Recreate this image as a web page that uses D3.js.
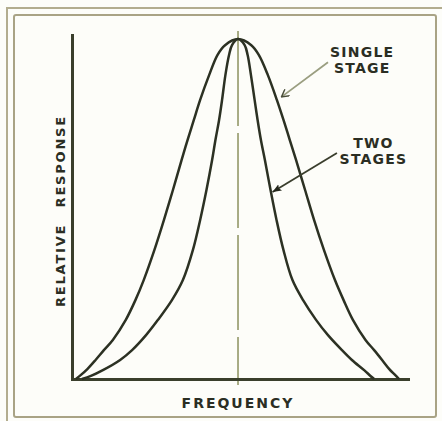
<!DOCTYPE html>
<html lang="en">
<head>
<meta charset="UTF-8">
<title>Relative response vs frequency</title>
<script src="https://cdn.jsdelivr.net/npm/d3@7/dist/d3.min.js"></script>
<style>
  body { margin: 0; background: #fdfdf9; }
  svg { display: block; }
  text { font-family: "DejaVu Sans", sans-serif; font-weight: bold; fill: #2b2e23; }
</style>
</head>
<body>
<div id="chart"></div>
<script>
// frequency offset from resonance (arbitrary units) and relative response
const singleFreq = [-48.8, -47.3, -45.3, -42.9, -40.4, -37.7, -33.8, -30.9, -28.4, -25.2, -22.3, -19.6, -17.0, -15.2, -13.3, -11.4, -8.7, -6.2, -3.9,
  0, 4.0, 6.3, 9.0, 11.7, 13.7, 15.6, 17.5, 20.2, 22.9, 25.9, 29.2, 31.8, 34.6, 38.4, 41.0, 43.4, 45.5, 47.3, 48.5];
const singleResp = [0, 0.012, 0.03, 0.056, 0.085, 0.115, 0.174, 0.232, 0.291, 0.379, 0.468, 0.556, 0.644, 0.703, 0.762, 0.821, 0.894, 0.953, 0.982,
  1, 0.982, 0.953, 0.894, 0.821, 0.762, 0.703, 0.644, 0.556, 0.468, 0.379, 0.291, 0.232, 0.174, 0.115, 0.085, 0.056, 0.03, 0.012, 0];

const twoFreq = [-47.0, -44.3, -40.7, -35.5, -31.9, -27.7, -24.1, -19.9, -16.6, -13.6, -11.4, -9.5, -7.8, -6.8, -5.7, -4.8, -3.8, -2.7, -1.8,
  0, 2.0, 2.9, 3.9, 5.0, 5.9, 6.9, 8.1, 9.8, 11.6, 13.7, 16.4, 19.6, 23.5, 27.1, 31.3, 34.3, 38.0, 39.9, 41.0];
const twoResp = [0, 0.009, 0.026, 0.056, 0.085, 0.129, 0.174, 0.232, 0.291, 0.379, 0.468, 0.556, 0.644, 0.703, 0.762, 0.821, 0.894, 0.953, 0.982,
  1, 0.982, 0.953, 0.894, 0.821, 0.762, 0.703, 0.644, 0.556, 0.468, 0.379, 0.291, 0.232, 0.174, 0.129, 0.085, 0.056, 0.026, 0.009, 0];

// callouts: label lines, label anchor, arrow start and arrow tip (data units)
const callouts = [
  { lines: ["SINGLE", "STAGE"], f: 37.4, r: 0.947, fromF: 27.1, fromR: 0.932, tipF: 13.1, tipR: 0.83, color: "#9a9e80", head: "open" },
  { lines: ["TWO", "STAGES"], f: 40.8, r: 0.679, fromF: 29.8, fromR: 0.665, tipF: 10.4, tipR: 0.55, color: "#3a3e2d", head: "solid" }
];

const width = 442, height = 421;

const svg = d3.select("#chart").append("svg")
  .attr("width", width)
  .attr("height", height);

svg.append("rect").attr("width", width).attr("height", height).attr("fill", "#fdfdf9");

// frame (double border of the printed figure)
svg.append("path")
  .attr("d", "M7,421V8H442")
  .attr("fill", "none").attr("stroke", "#b3ad8f").attr("stroke-width", 2);
svg.append("rect")
  .attr("x", 14).attr("y", 15).attr("width", 422).attr("height", 402).attr("rx", 2)
  .attr("fill", "none").attr("stroke", "#a9a385").attr("stroke-width", 2);

const x = d3.scaleLinear().domain([-50, 51.2]).range([72, 408]);
const y = d3.scaleLinear().domain([0, 1.012]).range([379, 35]);

// centre frequency line
svg.append("line")
  .attr("x1", x(0)).attr("x2", x(0))
  .attr("y1", y(1.024)).attr("y2", y(-0.018))
  .attr("stroke", "#8c915f").attr("stroke-width", 1.5)
  .attr("stroke-dasharray", "95,7");

// axes, no ticks
const xAxis = svg.append("g")
  .attr("transform", `translate(0,${y(0)})`)
  .call(d3.axisBottom(x).tickValues([]).tickSizeOuter(0));
const yAxis = svg.append("g")
  .attr("transform", `translate(${x(-50)},0)`)
  .call(d3.axisLeft(y).tickValues([]).tickSizeOuter(0));
[xAxis, yAxis].forEach(g => g.select(".domain")
  .attr("stroke", "#3a3f2c").attr("stroke-width", 3).attr("stroke-linecap", "square"));

const line = d3.line()
  .x(d => x(d[0]))
  .y(d => y(d[1]))
  .curve(d3.curveCatmullRom.alpha(0.5));

[[singleFreq, singleResp], [twoFreq, twoResp]].forEach(([fs, rs]) => {
  svg.append("path")
    .datum(fs.map((f, i) => [f, rs[i]]))
    .attr("d", line)
    .attr("fill", "none")
    .attr("stroke", "#2c3123")
    .attr("stroke-width", 2.5)
    .attr("stroke-linejoin", "round");
});

// arrow heads
const defs = svg.append("defs");
defs.append("marker")
  .attr("id", "open").attr("viewBox", "0 -5 10 10")
  .attr("refX", 9).attr("refY", 0)
  .attr("markerWidth", 9).attr("markerHeight", 9).attr("markerUnits", "userSpaceOnUse")
  .attr("orient", "auto")
  .append("path").attr("d", "M1,-4.5L9,0L1,4.5")
  .attr("fill", "none").attr("stroke", "#4a4e3a").attr("stroke-width", 1.6);
defs.append("marker")
  .attr("id", "solid").attr("viewBox", "0 -5 10 10")
  .attr("refX", 10).attr("refY", 0)
  .attr("markerWidth", 9).attr("markerHeight", 9).attr("markerUnits", "userSpaceOnUse")
  .attr("orient", "auto")
  .append("path").attr("d", "M0,-4L10,0L0,4L2,0Z")
  .attr("fill", "#23261b");

callouts.forEach(c => {
  svg.append("line")
    .attr("x1", x(c.fromF)).attr("y1", y(c.fromR))
    .attr("x2", x(c.tipF)).attr("y2", y(c.tipR))
    .attr("stroke", c.color).attr("stroke-width", 1.8)
    .attr("marker-end", `url(#${c.head})`);
  svg.append("text")
    .attr("x", x(c.f)).attr("y", y(c.r))
    .attr("text-anchor", "middle")
    .style("font-size", "14px").style("letter-spacing", "1.2px")
    .selectAll("tspan")
    .data(c.lines)
    .join("tspan")
    .attr("x", x(c.f))
    .attr("dy", (d, i) => i ? 15.5 : 0)
    .text(d => d);
});

// axis titles
svg.append("text")
  .attr("x", x(0)).attr("y", 408)
  .attr("text-anchor", "middle")
  .style("font-size", "14px").style("letter-spacing", "2px")
  .text("FREQUENCY");

svg.append("text")
  .attr("transform", `translate(65,${(y(0) + y(1)) / 2 + 2}) rotate(-90)`)
  .attr("text-anchor", "middle")
  .style("font-size", "13px").style("letter-spacing", "1.8px").style("word-spacing", "10px")
  .text("RELATIVE RESPONSE");
</script>
</body>
</html>
